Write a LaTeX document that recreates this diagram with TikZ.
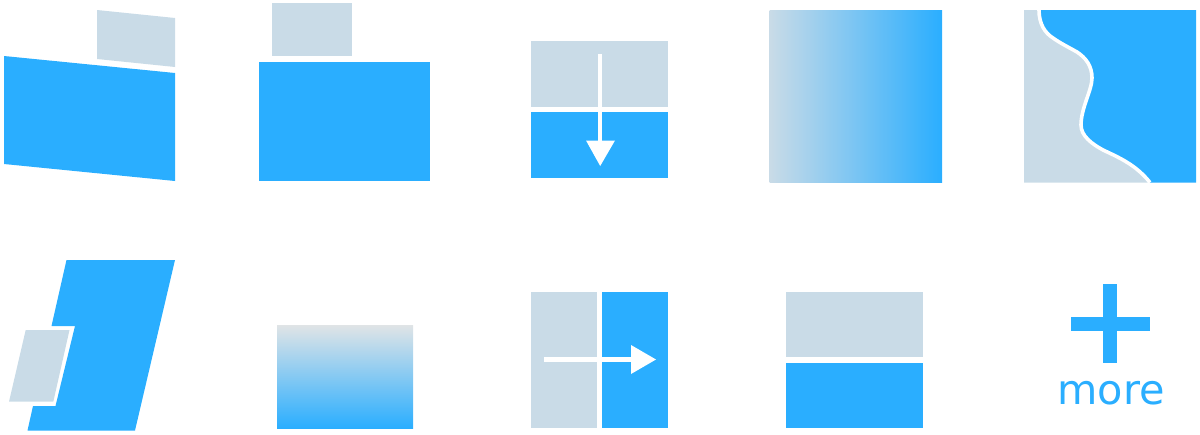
\documentclass[tikz,border=0pt]{standalone}
\usepackage{fontspec}
\setmainfont{DejaVu Sans}
\definecolor{bl}{HTML}{2AAEFF}
\definecolor{gr}{HTML}{C9DBE7}
\definecolor{grtop}{HTML}{E0E4E6}
\pgfdeclarehorizontalshading{hgrad}{100bp}{color(0bp)=(gr); color(25bp)=(gr); color(75bp)=(bl); color(100bp)=(bl)}
\pgfdeclareverticalshading{vgrad}{100bp}{color(0bp)=(bl); color(25bp)=(bl); color(75bp)=(grtop); color(100bp)=(grtop)}
\newcommand{\wavepath}{(1039,10)
  .. controls (1039,24) and (1045,33) .. (1053,38)
  .. controls (1060,43) and (1068,47) .. (1077,52)
  .. controls (1086,58) and (1092,66) .. (1092,78)
  .. controls (1092,90) and (1081,108) .. (1081,125)
  .. controls (1081,136) and (1092,144) .. (1103,150)
  .. controls (1120,158) and (1136,165) .. (1150,182.5)}
\begin{document}
\begin{tikzpicture}[x=0.5pt,y=-0.5pt]
\useasboundingbox (0,0) rectangle (1200,434);
% 1
\fill[bl] (4,56) -- (175,73) -- (175,181) -- (4,164) -- cycle;
\fill[gr] (97,10) -- (175,18) -- (175,67) -- (97,59) -- cycle;
% 2
\fill[gr] (271.7,3.2) rectangle (351.7,56);
\fill[bl] (259.3,62.3) rectangle (430.3,181);
% 3
\fill[gr] (531.3,41.3) rectangle (667.5,106.5);
\fill[bl] (531.3,112) rectangle (667.5,177.5);
\fill[white] (597.8,54) rectangle (602.2,141);
\fill[white] (586,140.5) -- (615,140.5) -- (600.2,166) -- cycle;
% 4
\shade[shading=hgrad] (769.5,10) rectangle (942,182.5);
% 5
\fill[bl] \wavepath -- (1196,182.5) -- (1196,10) -- cycle;
\fill[gr] \wavepath -- (1024,182.5) -- (1024,10) -- cycle;
\draw[white,line width=1.8pt] \wavepath;
% 6
\fill[bl] (66.5,260) -- (175,260) -- (135,430.5) -- (27.5,430.5) -- (33,406) -- (55.5,406) -- (75,326) -- (51.5,326) -- cycle;
\fill[gr] (25.7,330) -- (69.5,330) -- (53.3,401.7) -- (9,401.7) -- cycle;
% 7
\shade[shading=vgrad] (277,325) rectangle (413,428);
% 8
\fill[gr] (531.3,292) rectangle (597,428);
\fill[bl] (602,292) rectangle (667.5,428);
\fill[white] (544,357.3) rectangle (632,361.7);
\fill[white] (631,345) -- (631,374) -- (656,359.5) -- cycle;
% 9
\fill[gr] (786.3,292) rectangle (923,357);
\fill[bl] (786.3,362.5) rectangle (923,428);
% 10
\fill[bl] (1103.3,284.3) rectangle (1117.3,363);
\fill[bl] (1071,316.7) rectangle (1149.7,330.7);
\node[text=bl,font=\fontsize{20.7pt}{24pt}\selectfont,inner sep=0pt,anchor=base] (more) at (1111,404) {more};
\end{tikzpicture}
\end{document}
